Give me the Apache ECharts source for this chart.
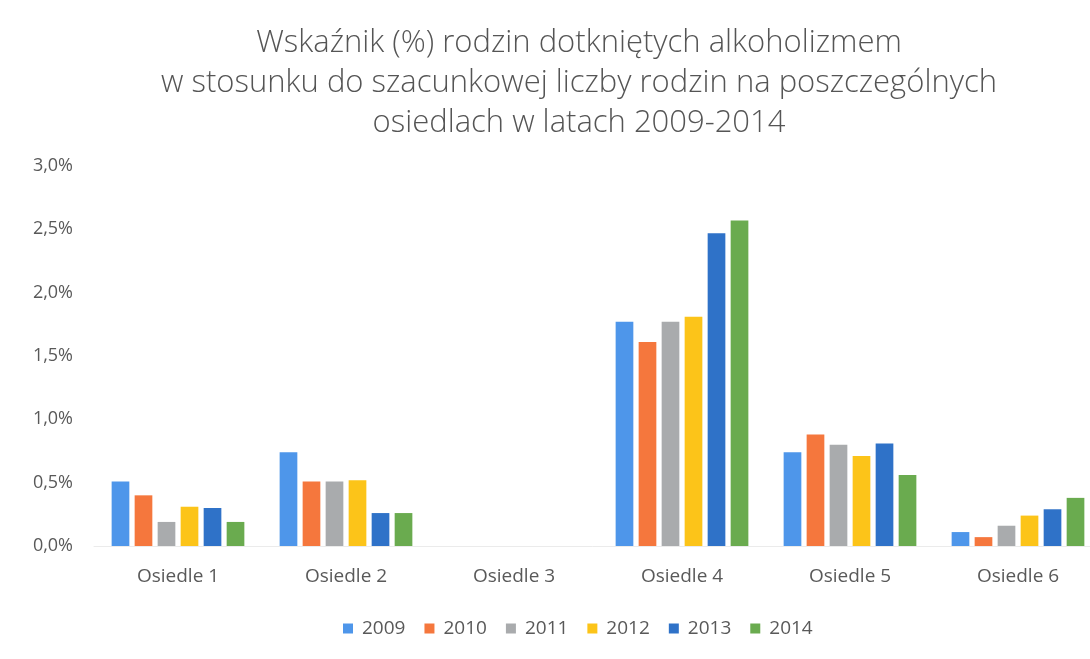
<!DOCTYPE html>
<html>
<head>
<meta charset="utf-8">
<script src="https://cdn.jsdelivr.net/npm/echarts@6/dist/echarts.min.js"></script>
<style>
    html, body { margin: 0; padding: 0; background: #fff; }
    #chart { width: 1090px; height: 659px; }
</style>
</head>
<body>
<div id="chart"></div>
<script>
var categories = ['Osiedle 1', 'Osiedle 2', 'Osiedle 3', 'Osiedle 4', 'Osiedle 5', 'Osiedle 6'];
var years = ['2009', '2010', '2011', '2012', '2013', '2014'];
var colors = ['#4e96ea', '#f5773d', '#a9abad', '#fcc419', '#2f72c8', '#6aab4f'];

// wartosci w %
var v2009 = [0.51, 0.74, 0, 1.77, 0.74, 0.11];
var v2010 = [0.40, 0.51, 0, 1.61, 0.88, 0.07];
var v2011 = [0.19, 0.51, 0, 1.77, 0.80, 0.16];
var v2012 = [0.31, 0.52, 0, 1.81, 0.71, 0.24];
var v2013 = [0.30, 0.26, 0, 2.47, 0.81, 0.29];
var v2014 = [0.19, 0.26, 0, 2.57, 0.56, 0.38];

var yMin = 0;
var yMax = 3;
var yStep = 0.5;

var values = [v2009, v2010, v2011, v2012, v2013, v2014];

var se = new Array();
for (var i = 0; i < years.length; i++) {
    se.push({
        name: years[i],
        type: 'bar',
        data: values[i],
        barGap: '30%',
        barCategoryGap: '21%',
        itemStyle: { color: colors[i] }
    });
}

var mychart = echarts.init(document.getElementById('chart'));
var option = {
    animation: false,
    textStyle: { fontFamily: 'Open Sans' },
    title: {
        text: 'Wskaźnik (%) rodzin dotkniętych alkoholizmem\nw stosunku do szacunkowej liczby rodzin na poszczególnych\nosiedlach w latach 2009-2014',
        left: 574,
        textAlign: 'center',
        top: 18,
        textStyle: {
            fontFamily: 'Open Sans',
            fontSize: 31,
            fontWeight: 300,
            color: '#555555',
            lineHeight: 40
        }
    },
    legend: {
        data: years,
        left: 338,
        top: 614,
        itemWidth: 10,
        itemHeight: 10,
        itemGap: 19,
        icon: 'rect',
        textStyle: { fontSize: 19, color: '#595959', padding: [0, 0, 0, 4] }
    },
    grid: {
        left: 94,
        top: 166,
        width: 1008,
        height: 380,
        outerBoundsMode: 'none'
    },
    xAxis: [
        {
            type: 'category',
            data: categories,
            axisLine: { lineStyle: { color: '#ebebeb' } },
            axisTick: { show: false },
            axisLabel: { fontSize: 19, color: '#595959', margin: 21 }
        }
    ],
    yAxis: [
        {
            type: 'value',
            min: yMin,
            max: yMax,
            interval: yStep,
            splitLine: { show: false },
            axisLabel: {
                fontSize: 18,
                color: '#595959',
                margin: 21,
                formatter: function (v) { return v.toFixed(1).replace('.', ',') + '%'; }
            }
        }
    ],
    series: se
};
mychart.setOption(option);
</script>
</body>
</html>
